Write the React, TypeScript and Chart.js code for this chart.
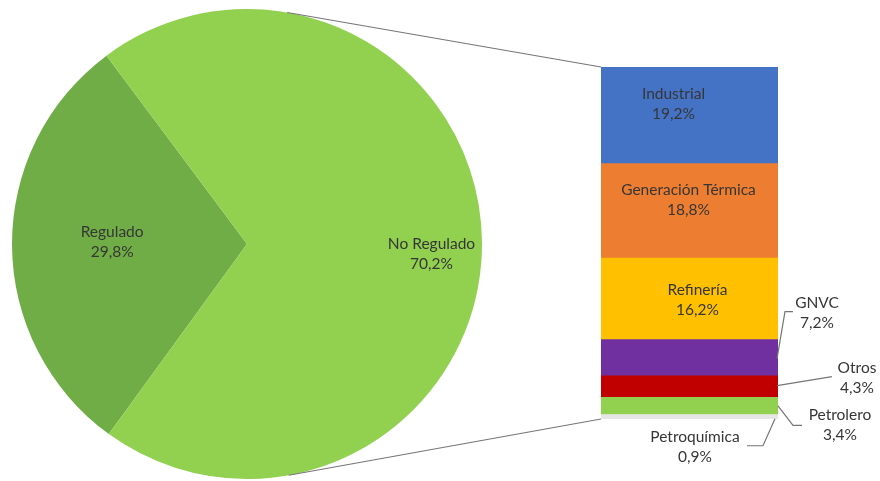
import React, { useEffect, useRef } from "react";
import { Chart, registerables } from "chart.js";

Chart.register(...registerables);

// ---- data ----
const pieLabels = ["Regulado", "No Regulado"];
const pieValues = [29.8, 70.2];
const pieColors = ["#70AD47", "#92D050"];

const barLabels = [
  "Industrial",
  "Generación Térmica",
  "Refinería",
  "GNVC",
  "Otros",
  "Petrolero",
  "Petroquímica",
];
const barValues = [19.2, 18.8, 16.2, 7.2, 4.3, 3.4, 0.9];
const barColors = ["#4472C4", "#ED7D31", "#FFC000", "#7030A0", "#C00000", "#92D050", "#E7E6E6"];

// ---- layout / style (not data) ----
const FONT = "15.5px Lato, 'Open Sans', sans-serif";
const TEXT = "#363636";
const LINE = "#767676";
const LINE_GAP = 20;

type Pt = [number, number];
type BarLabelLayout = {
  ref: "center" | "right";
  tx: number;
  ty: number;
  leader?: Pt[];
};

// offsets relative to segment centre (inside) or to right edge/mid (outside)
const barLabelLayout: BarLabelLayout[] = [
  { ref: "center", tx: -16, ty: -11 },
  { ref: "center", tx: -1, ty: -11 },
  { ref: "center", tx: 8, ty: 1.5 },
  { ref: "right", tx: 39, ty: -45, leader: [[-1, 1], [7, -46], [15, -46]] },
  { ref: "right", tx: 79, ty: -8.5, leader: [[-1, -1], [54, -10]] },
  { ref: "right", tx: 62, ty: 19.5, leader: [[0, 0], [15, 19.5], [24, 19.5]] },
  { ref: "right", tx: -83, ty: 30, leader: [[-3, 2], [-15, 29], [-31, 29]] },
];

const pieLabelLayout = [
  { f: 0.574, dy: -3 },
  { f: 0.785, dy: 11 },
];

const fmt = (v: number) => v.toFixed(1).replace(".", ",") + "%";

function drawTwoLines(ctx: CanvasRenderingContext2D, a: string, b: string, x: number, y: number) {
  ctx.save();
  ctx.font = FONT;
  ctx.fillStyle = TEXT;
  ctx.textAlign = "center";
  ctx.textBaseline = "middle";
  ctx.fillText(a, x, y - LINE_GAP / 2);
  ctx.fillText(b, x, y + LINE_GAP / 2);
  ctx.restore();
}

export default function App() {
  const pieRef = useRef<HTMLCanvasElement>(null);
  const barRef = useRef<HTMLCanvasElement>(null);

  useEffect(() => {
    if (!pieRef.current || !barRef.current) return;

    const pieLabelPlugin = {
      id: "pieLabels",
      afterDatasetsDraw(chart: any) {
        const ctx = chart.ctx as CanvasRenderingContext2D;
        const meta = chart.getDatasetMeta(0);
        meta.data.forEach((arc: any, i: number) => {
          const mid = (arc.startAngle + arc.endAngle) / 2;
          const r = arc.outerRadius * pieLabelLayout[i].f;
          const x = arc.x + Math.cos(mid) * r;
          const y = arc.y + Math.sin(mid) * r + pieLabelLayout[i].dy;
          drawTwoLines(ctx, pieLabels[i], fmt(pieValues[i]), x, y);
        });
      },
    };

    const pie = new Chart(pieRef.current, {
      type: "pie",
      data: {
        labels: pieLabels,
        datasets: [
          {
            data: pieValues,
            backgroundColor: pieColors,
            borderWidth: 0,
          },
        ],
      },
      options: {
        responsive: false,
        animation: false,
        rotation: 216,
        layout: { padding: { left: 12, right: 398, top: 9, bottom: 2 } },
        plugins: { legend: { display: false }, tooltip: { enabled: false } },
      },
      plugins: [pieLabelPlugin],
    });

    const total = barValues.reduce((s, v) => s + v, 0);
    // stack bottom-up: last item at the bottom
    const order = barValues.map((_, i) => i).reverse();

    const barPlugin = {
      id: "barDecor",
      afterDatasetsDraw(chart: any) {
        const ctx = chart.ctx as CanvasRenderingContext2D;
        let top = Infinity;
        let bottom = -Infinity;
        let left = 0;

        order.forEach((srcIdx, dsIdx) => {
          const el: any = chart.getDatasetMeta(dsIdx).data[0];
          const x = el.x;
          const yTop = Math.min(el.y, el.base);
          const yBot = Math.max(el.y, el.base);
          const w = el.width;
          top = Math.min(top, yTop);
          bottom = Math.max(bottom, yBot);
          left = x - w / 2;
          const mid = (yTop + yBot) / 2;
          const lay = barLabelLayout[srcIdx];
          const ox = lay.ref === "center" ? x : x + w / 2;
          if (lay.leader) {
            ctx.save();
            ctx.strokeStyle = LINE;
            ctx.lineWidth = 1.2;
            ctx.beginPath();
            lay.leader.forEach(([dx, dy], k) => {
              if (k === 0) ctx.moveTo(ox + dx, mid + dy);
              else ctx.lineTo(ox + dx, mid + dy);
            });
            ctx.stroke();
            ctx.restore();
          }
          drawTwoLines(ctx, barLabels[srcIdx], fmt(barValues[srcIdx]), ox + lay.tx, mid + lay.ty);
        });

        // connector lines: tangents from bar corners to the pie circle
        const arc: any = pie.getDatasetMeta(0).data[1];
        const cx = arc.x;
        const cy = arc.y;
        const R = arc.outerRadius;
        const tangent = (px: number, py: number, sign: number): Pt => {
          const dx = px - cx;
          const dy = py - cy;
          const d = Math.hypot(dx, dy);
          const a = Math.atan2(dy, dx) + sign * Math.acos(R / d);
          return [cx + R * Math.cos(a), cy + R * Math.sin(a)];
        };
        const t1 = tangent(left, top, -1);
        const t2 = tangent(left, bottom, 1);
        ctx.save();
        ctx.strokeStyle = LINE;
        ctx.lineWidth = 1.2;
        ctx.beginPath();
        ctx.moveTo(t1[0], t1[1]);
        ctx.lineTo(left, top);
        ctx.moveTo(t2[0], t2[1]);
        ctx.lineTo(left, bottom);
        ctx.stroke();
        ctx.restore();
      },
    };

    const bar = new Chart(barRef.current, {
      type: "bar",
      data: {
        labels: [""],
        datasets: order.map((i) => ({
          label: barLabels[i],
          data: [barValues[i]],
          backgroundColor: barColors[i],
          borderWidth: 0,
          categoryPercentage: 1,
          barPercentage: 1,
        })),
      },
      options: {
        responsive: false,
        animation: false,
        layout: { padding: { left: 601, right: 102, top: 67, bottom: 62 } },
        scales: {
          x: { stacked: true, display: false },
          y: { stacked: true, display: false, min: 0, max: total },
        },
        plugins: { legend: { display: false }, tooltip: { enabled: false } },
      },
      plugins: [barPlugin],
    });

    return () => {
      bar.destroy();
      pie.destroy();
    };
  }, []);

  return (
    <div
      style={{
        position: "absolute",
        left: 0,
        top: 0,
        width: 880,
        height: 481,
        background: "#ffffff",
      }}
    >
      <canvas ref={pieRef} width={880} height={481} style={{ position: "absolute", left: 0, top: 0 }} />
      <canvas
        ref={barRef}
        width={880}
        height={481}
        style={{ position: "absolute", left: 0, top: 0, pointerEvents: "none" }}
      />
    </div>
  );
}
